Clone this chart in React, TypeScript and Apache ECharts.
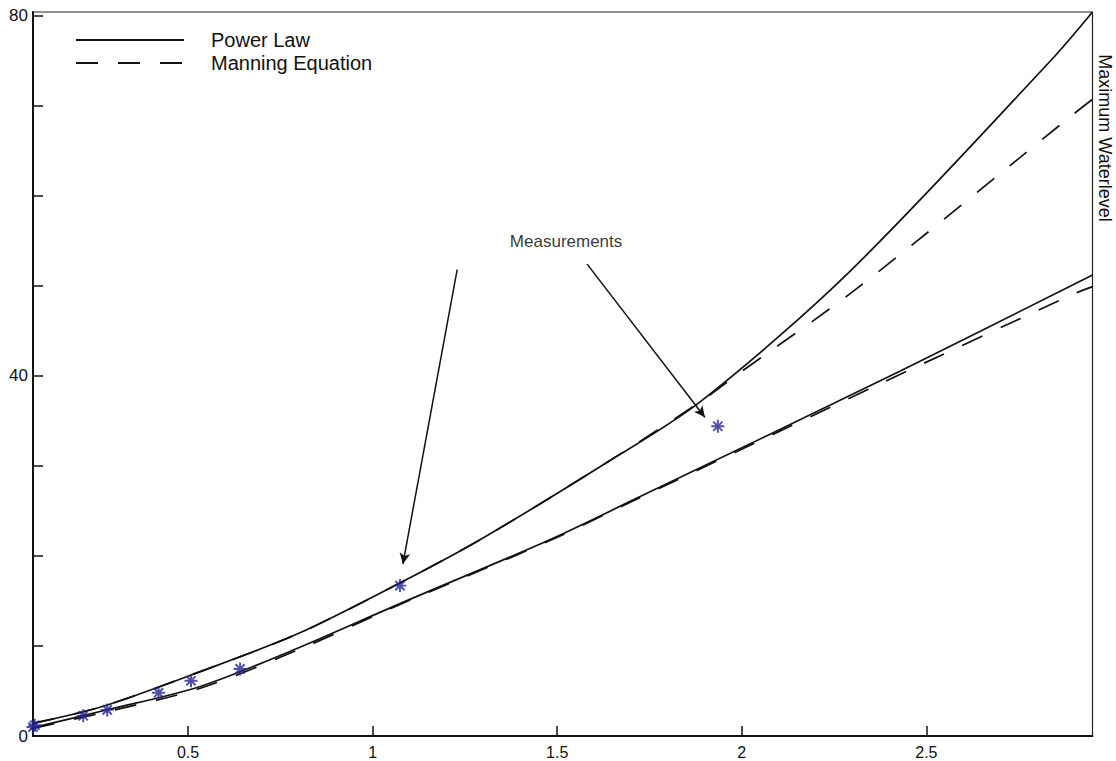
import { useEffect, useRef } from "react";
import * as echarts from "echarts";

// Upper curves (solid = Power Law, dashed = Manning Equation)
const powerUpperX = [0.08, 0.27, 0.533, 0.8, 1.074, 1.291, 1.616, 1.887, 2.293, 2.839, 2.95];
const powerUpperY = [1.4, 3.3, 7.15, 11.4, 17.0, 21.8, 29.9, 37.1, 51.6, 75.1, 80.4];
const manningUpperX = [0.08, 0.27, 0.533, 0.8, 1.074, 1.291, 1.616, 1.887, 1.99, 2.312, 2.9, 2.95];
const manningUpperY = [1.4, 3.3, 7.15, 11.4, 17.0, 21.8, 29.9, 37.1, 40.2, 49.7, 69.1, 70.7];

// Lower curves
const powerLowerX = [0.08, 0.27, 0.533, 0.8, 1.074, 1.48, 1.705, 2.428, 2.95];
const powerLowerY = [0.93, 2.8, 5.5, 9.8, 14.7, 21.8, 26.2, 40.5, 51.2];
const manningLowerX = [0.08, 0.27, 0.533, 0.8, 1.074, 1.48, 1.705, 2.379, 2.9, 2.95];
const manningLowerY = [0.85, 2.6, 5.3, 9.6, 14.6, 21.7, 26.1, 39.2, 49.1, 49.9];

// Measurements
const measX = [0.08, 0.085, 0.216, 0.281, 0.42, 0.508, 0.641, 1.074, 1.935];
const measY = [1.0, 1.2, 2.25, 2.9, 4.8, 6.14, 7.45, 16.7, 34.4];

// Annotation
const annotationText = "Measurements";
const annotationPos = [1.524, 54.9];
const arrowStarts = [[1.229, 51.8], [1.581, 52.4]];
const arrowEnds = [[1.082, 19.1], [1.9, 35.4]];

// Axes
const xTicks = [0.5, 1, 1.5, 2, 2.5];
const yTicks = [0, 10, 20, 30, 40, 50, 60, 70, 80];
const yLabels = [0, 40, 80];
const xMin = 0.08;
const xMax = 2.95;
const yMin = 0;
const yMax = 80.4;

const legendNames = ["Power Law", "Manning Equation"];
const rightLabel = "Maximum Waterlevel";

const FONT = "'Liberation Sans', Arial, Helvetica, sans-serif";
const DASH = [22, 20];

const zip = (xs: number[], ys: number[]) => xs.map((x, i) => [x, ys[i]]);

const asterisk =
  "path://M5.1 0L6.9 0L6.9 12L5.1 12Z M0 5.1L12 5.1L12 6.9L0 6.9Z M1.1 2.4L2.4 1.1L10.9 9.6L9.6 10.9Z M9.6 1.1L10.9 2.4L2.4 10.9L1.1 9.6Z";

export default function App() {
  const ref = useRef<HTMLDivElement>(null);
  useEffect(() => {
    const chart = echarts.init(ref.current!, null, { renderer: "svg" });
    const lineBase = {
      type: "line" as const,
      symbol: "none",
      showSymbol: false,
      smooth: 0.3,
      silent: true,
    };
    chart.setOption({
      animation: false,
      backgroundColor: "#ffffff",
      grid: {
        left: 33,
        right: 23.5,
        top: 12,
        bottom: 25,
        show: true,
        borderColor: "#222",
        borderWidth: 1.2,
        containLabel: false,
        outerBoundsMode: "none",
      },
      legend: {
        data: legendNames.map((n) => ({ name: n })),
        orient: "vertical",
        left: 75,
        top: 30,
        padding: 0,
        itemWidth: 108,
        itemHeight: 14,
        itemGap: 3,
        selectedMode: false,
        itemStyle: { opacity: 0 },
        textStyle: {
          fontSize: 20,
          color: "#111",
          fontFamily: FONT,
          padding: [0, 0, 0, 22],
        },
      },
      xAxis: {
        type: "value",
        min: xMin,
        max: xMax,
        axisLine: { show: true, lineStyle: { color: "#111", width: 2 } },
        axisTick: {
          show: true,
          inside: true,
          length: 10,
          customValues: xTicks,
          lineStyle: { color: "#111", width: 1.5 },
        },
        axisLabel: {
          customValues: xTicks,
          formatter: (v: number) => String(v),
          fontSize: 16,
          lineHeight: 16,
          color: "#111",
          margin: 8,
          fontFamily: FONT,
        },
        splitLine: { show: false },
      },
      yAxis: {
        type: "value",
        min: yMin,
        max: yMax,
        axisLine: { show: true, lineStyle: { color: "#111", width: 2 } },
        axisTick: {
          show: true,
          inside: true,
          length: 10,
          customValues: yTicks,
          lineStyle: { color: "#111", width: 1.5 },
        },
        axisLabel: {
          customValues: yLabels,
          formatter: (v: number) => String(v),
          fontSize: 17,
          color: "#111",
          margin: 5,
          fontFamily: FONT,
        },
        splitLine: { show: false },
      },
      graphic: [
        {
          type: "text",
          x: 1105,
          y: 138,
          rotation: -Math.PI / 2,
          style: {
            text: rightLabel,
            fontSize: 18,
            fontFamily: FONT,
            fill: "#111",
            align: "center",
            verticalAlign: "middle",
            textAlign: "center",
            textVerticalAlign: "middle",
          },
        },
      ],
      series: [
        {
          ...lineBase,
          name: legendNames[0],
          data: zip(powerUpperX, powerUpperY),
          lineStyle: { color: "#111", width: 1.7, type: "solid" },
          itemStyle: { color: "#111" },
        },
        {
          ...lineBase,
          name: legendNames[0],
          data: zip(powerLowerX, powerLowerY),
          lineStyle: { color: "#111", width: 1.7, type: "solid" },
          itemStyle: { color: "#111" },
        },
        {
          ...lineBase,
          name: legendNames[1],
          data: zip(manningUpperX, manningUpperY),
          lineStyle: { color: "#111", width: 1.7, type: DASH },
          itemStyle: { color: "#111" },
        },
        {
          ...lineBase,
          name: legendNames[1],
          data: zip(manningLowerX, manningLowerY),
          lineStyle: { color: "#111", width: 1.7, type: DASH },
          itemStyle: { color: "#111" },
        },
        {
          type: "scatter",
          name: "meas",
          data: zip(measX, measY),
          symbol: asterisk,
          symbolSize: 13,
          itemStyle: { color: "#23258f" },
          silent: true,
          z: 5,
          markLine: {
            silent: true,
            symbol: ["none", "arrow"],
            symbolSize: [8, 11],
            label: { show: false },
            lineStyle: { color: "#111", width: 1.5, type: "solid" },
            data: arrowStarts.map((s, i) => [
              { coord: s },
              { coord: arrowEnds[i] },
            ]),
          },
        },
        {
          type: "scatter",
          name: "annotation",
          data: [annotationPos],
          symbolSize: 0,
          silent: true,
          label: {
            show: true,
            position: "inside",
            formatter: annotationText,
            fontSize: 17,
            color: "#000",
            fontFamily: FONT,
          },
        },
      ],
    });
    return () => chart.dispose();
  }, []);
  return (
    <div
      ref={ref}
      style={{
        position: "fixed",
        left: 0,
        top: 0,
        width: 1116,
        height: 761,
        background: "#fff",
      }}
    />
  );
}
